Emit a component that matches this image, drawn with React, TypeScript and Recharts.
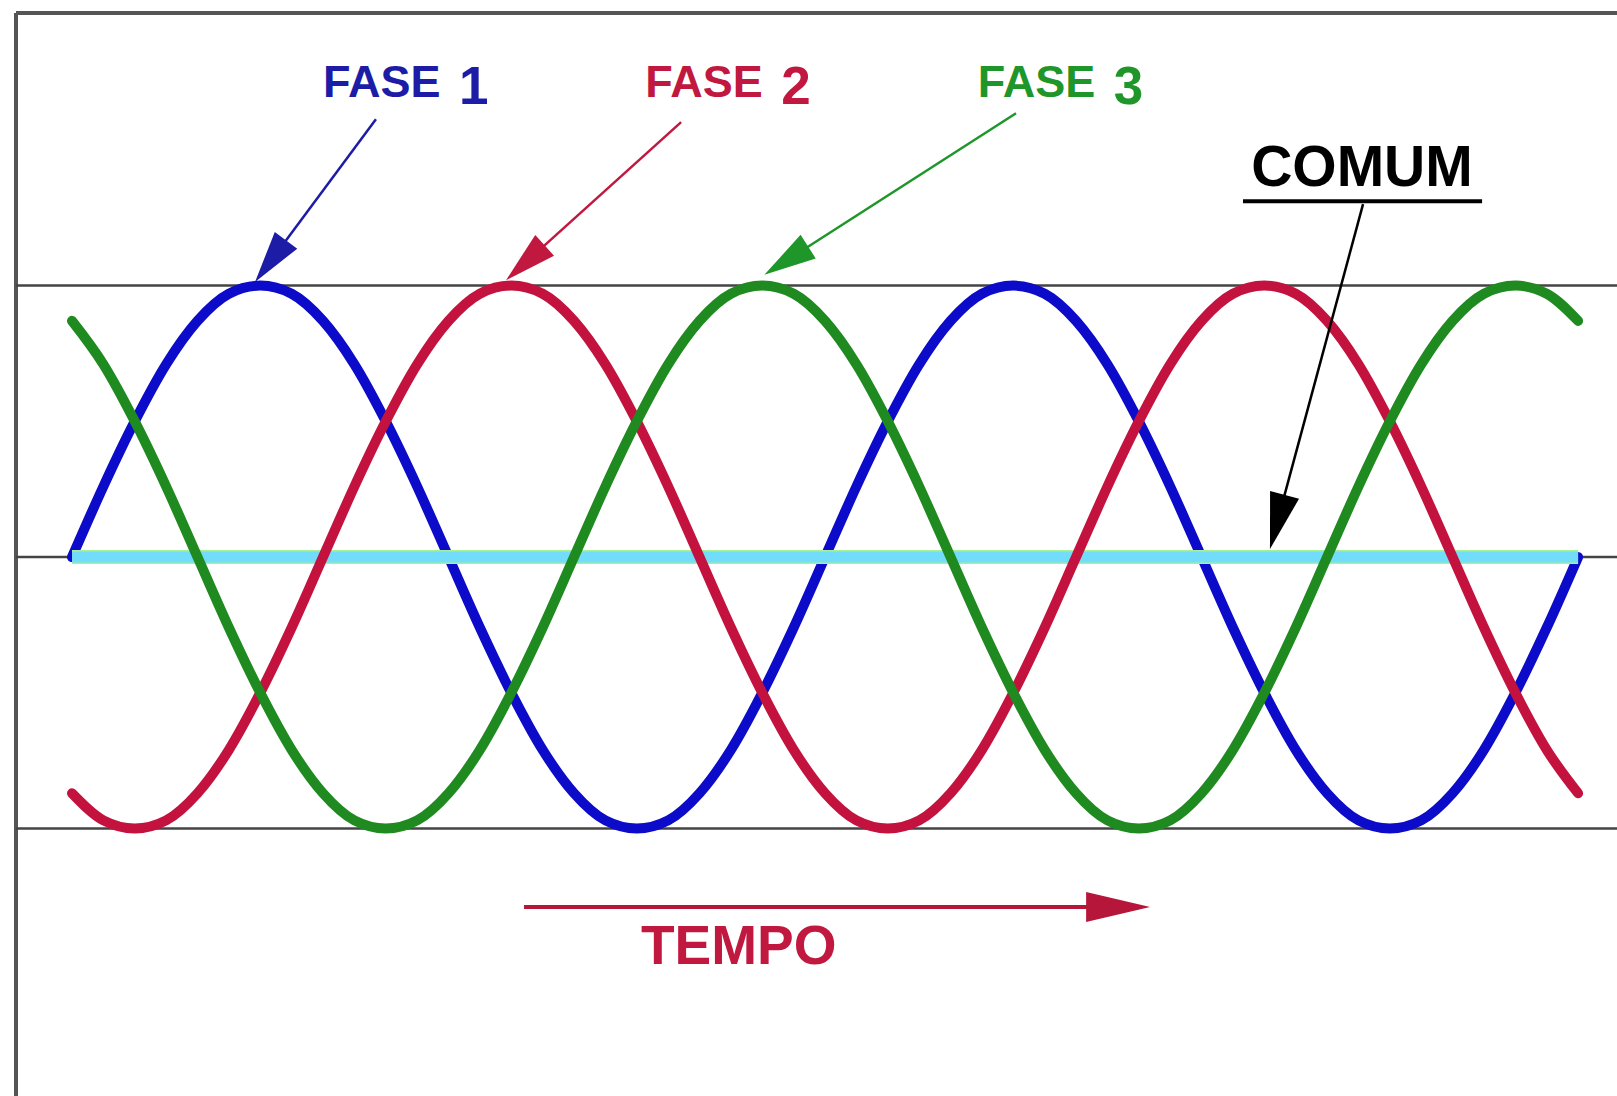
import React from 'react';
import { LineChart, Line, XAxis, YAxis, ReferenceLine, ReferenceDot } from 'recharts';

// phase angle (degrees) along the time axis
const DEGREES = [
  0, 15, 30, 45, 60, 75, 90, 105, 120, 135, 150, 165, 180, 195, 210, 225, 240, 255, 270, 285, 300, 315, 330, 345,
  360, 375, 390, 405, 420, 435, 450, 465, 480, 495, 510, 525, 540, 555, 570, 585, 600, 615, 630, 645, 660, 675, 690, 705,
  720,
];

// values (amplitude, peak = 1)
const FASE_1 = [
  0, 0.26, 0.5, 0.71, 0.87, 0.97, 1, 0.97, 0.87, 0.71, 0.5, 0.26, 0, -0.26, -0.5, -0.71, -0.87, -0.97, -1, -0.97, -0.87, -0.71, -0.5, -0.26,
  0, 0.26, 0.5, 0.71, 0.87, 0.97, 1, 0.97, 0.87, 0.71, 0.5, 0.26, 0, -0.26, -0.5, -0.71, -0.87, -0.97, -1, -0.97, -0.87, -0.71, -0.5, -0.26,
  0,
];
const FASE_2 = [
  -0.87, -0.97, -1, -0.97, -0.87, -0.71, -0.5, -0.26, 0, 0.26, 0.5, 0.71, 0.87, 0.97, 1, 0.97, 0.87, 0.71, 0.5, 0.26, 0, -0.26, -0.5, -0.71,
  -0.87, -0.97, -1, -0.97, -0.87, -0.71, -0.5, -0.26, 0, 0.26, 0.5, 0.71, 0.87, 0.97, 1, 0.97, 0.87, 0.71, 0.5, 0.26, 0, -0.26, -0.5, -0.71,
  -0.87,
];
const FASE_3 = [
  0.87, 0.71, 0.5, 0.26, 0, -0.26, -0.5, -0.71, -0.87, -0.97, -1, -0.97, -0.87, -0.71, -0.5, -0.26, 0, 0.26, 0.5, 0.71, 0.87, 0.97, 1, 0.97,
  0.87, 0.71, 0.5, 0.26, 0, -0.26, -0.5, -0.71, -0.87, -0.97, -1, -0.97, -0.87, -0.71, -0.5, -0.26, 0, 0.26, 0.5, 0.71, 0.87, 0.97, 1, 0.97,
  0.87,
];
const COMUM = DEGREES.map(() => 0);

// labels and arrows, in chart coordinates (degrees, amplitude)
const PHASE_LABELS = [
  { text: 'FASE', num: '1', deg: 120, amp: 1.694, color: '#1c1ca6', arrowFrom: [145.3, 1.613], arrowTo: [87.5, 1.013] },
  { text: 'FASE', num: '2', deg: 274, amp: 1.694, color: '#c1183f', arrowFrom: [291.2, 1.602], arrowTo: [207.5, 1.02] },
  { text: 'FASE', num: '3', deg: 433, amp: 1.694, color: '#1f962a', arrowFrom: [451.3, 1.635], arrowTo: [331, 1.04] },
];

const COMUM_LABEL = { text: 'COMUM', deg: 563.7, amp: 1.366 };
const COMUM_UNDERLINE = [559.8, 674.1, 1.311];
const COMUM_ARROW = { from: [617.2, 1.3], to: [572.7, 0.03] };

const TEMPO_LABEL = { text: 'TEMPO', deg: 272, amp: -1.499 };
const TEMPO_ARROW = { from: [216.1, -1.289], to: [515.4, -1.289] };

const GRID_Y = [1, 0, -1];
const X_DOMAIN = [-26.77, 738.6];
const Y_DOMAIN = [-1.985, 2.004];

const rows = DEGREES.map((deg, i) => ({
  deg,
  fase1: FASE_1[i],
  fase2: FASE_2[i],
  fase3: FASE_3[i],
  comum: COMUM[i],
}));

const FONT = '"Liberation Sans", Arial, Helvetica, sans-serif';

const arrowShape = (color: string, width: number, headLen: number, headHalf: number) => (p: any) => {
  const { x1, y1, x2, y2 } = p;
  const dx = x2 - x1;
  const dy = y2 - y1;
  const len = Math.sqrt(dx * dx + dy * dy) || 1;
  const ux = dx / len;
  const uy = dy / len;
  const bx = x2 - ux * headLen;
  const by = y2 - uy * headLen;
  const pts = `${x2},${y2} ${bx - uy * headHalf},${by + ux * headHalf} ${bx + uy * headHalf},${by - ux * headHalf}`;
  return (
    <g>
      <line x1={x1} y1={y1} x2={bx + ux * 2} y2={by + uy * 2} stroke={color} strokeWidth={width} />
      <polygon points={pts} fill={color} />
    </g>
  );
};

const phaseText = (text: string, num: string, color: string) => (p: any) => (
  <g>
    <text x={p.cx} y={p.cy} fill={color} fontFamily={FONT} fontWeight="bold" fontSize={45}>
      {text}
    </text>
    <text x={p.cx + 136} y={p.cy + 7} fill={color} fontFamily={FONT} fontWeight="bold" fontSize={53}>
      {num}
    </text>
  </g>
);

const plainText = (text: string, color: string, size: number) => (p: any) => (
  <text x={p.cx} y={p.cy} fill={color} fontFamily={FONT} fontWeight="bold" fontSize={size}>
    {text}
  </text>
);

export default function App() {
  return (
    <div style={{ width: 1617, height: 1096, background: '#ffffff', overflow: 'hidden' }}>
      <style>{`body{margin:0;background:#fff;}`}</style>
      <LineChart width={1617} height={1096} data={rows} margin={{ top: 13, right: 0, bottom: 0, left: 16 }}>
        <XAxis type="number" dataKey="deg" domain={X_DOMAIN} hide allowDataOverflow />
        <YAxis type="number" domain={Y_DOMAIN} hide allowDataOverflow />

        {/* frame: left and top border */}
        <ReferenceLine x={X_DOMAIN[0]} stroke="#555555" strokeWidth={4} />
        <ReferenceLine y={Y_DOMAIN[1]} stroke="#555555" strokeWidth={4} />

        {GRID_Y.map((y) => (
          <ReferenceLine key={y} y={y} stroke="#444444" strokeWidth={2.5} />
        ))}

        <Line type="monotone" dataKey="fase1" stroke="#0b0bc9" strokeWidth={10} strokeLinecap="round" dot={false} isAnimationActive={false} />
        <Line type="linear" dataKey="comum" stroke="#a6f098" strokeWidth={14} dot={false} isAnimationActive={false} />
        <Line type="linear" dataKey="comum" stroke="#72ddfb" strokeWidth={11} dot={false} isAnimationActive={false} />
        <Line type="monotone" dataKey="fase2" stroke="#c4123f" strokeWidth={10} strokeLinecap="round" dot={false} isAnimationActive={false} />
        <Line type="monotone" dataKey="fase3" stroke="#1f8a1f" strokeWidth={10} strokeLinecap="round" dot={false} isAnimationActive={false} />

        {PHASE_LABELS.map((l) => (
          <ReferenceLine
            key={'a' + l.num}
            segment={[
              { x: l.arrowFrom[0], y: l.arrowFrom[1] },
              { x: l.arrowTo[0], y: l.arrowTo[1] },
            ]}
            shape={arrowShape(l.color, 2.5, 52, 14)}
          />
        ))}
        {PHASE_LABELS.map((l) => (
          <ReferenceDot key={'t' + l.num} x={l.deg} y={l.amp} r={0} shape={phaseText(l.text, l.num, l.color)} />
        ))}

        <ReferenceDot x={COMUM_LABEL.deg} y={COMUM_LABEL.amp} r={0} shape={plainText(COMUM_LABEL.text, '#000000', 57)} />
        <ReferenceLine
          segment={[
            { x: COMUM_UNDERLINE[0], y: COMUM_UNDERLINE[2] },
            { x: COMUM_UNDERLINE[1], y: COMUM_UNDERLINE[2] },
          ]}
          stroke="#000000"
          strokeWidth={4}
        />
        <ReferenceLine
          segment={[
            { x: COMUM_ARROW.from[0], y: COMUM_ARROW.from[1] },
            { x: COMUM_ARROW.to[0], y: COMUM_ARROW.to[1] },
          ]}
          shape={arrowShape('#000000', 2.5, 56, 15)}
        />

        <ReferenceLine
          segment={[
            { x: TEMPO_ARROW.from[0], y: TEMPO_ARROW.from[1] },
            { x: TEMPO_ARROW.to[0], y: TEMPO_ARROW.to[1] },
          ]}
          shape={arrowShape('#b5163a', 4, 64, 15)}
        />
        <ReferenceDot x={TEMPO_LABEL.deg} y={TEMPO_LABEL.amp} r={0} shape={plainText(TEMPO_LABEL.text, '#c1183f', 55)} />
      </LineChart>
    </div>
  );
}
